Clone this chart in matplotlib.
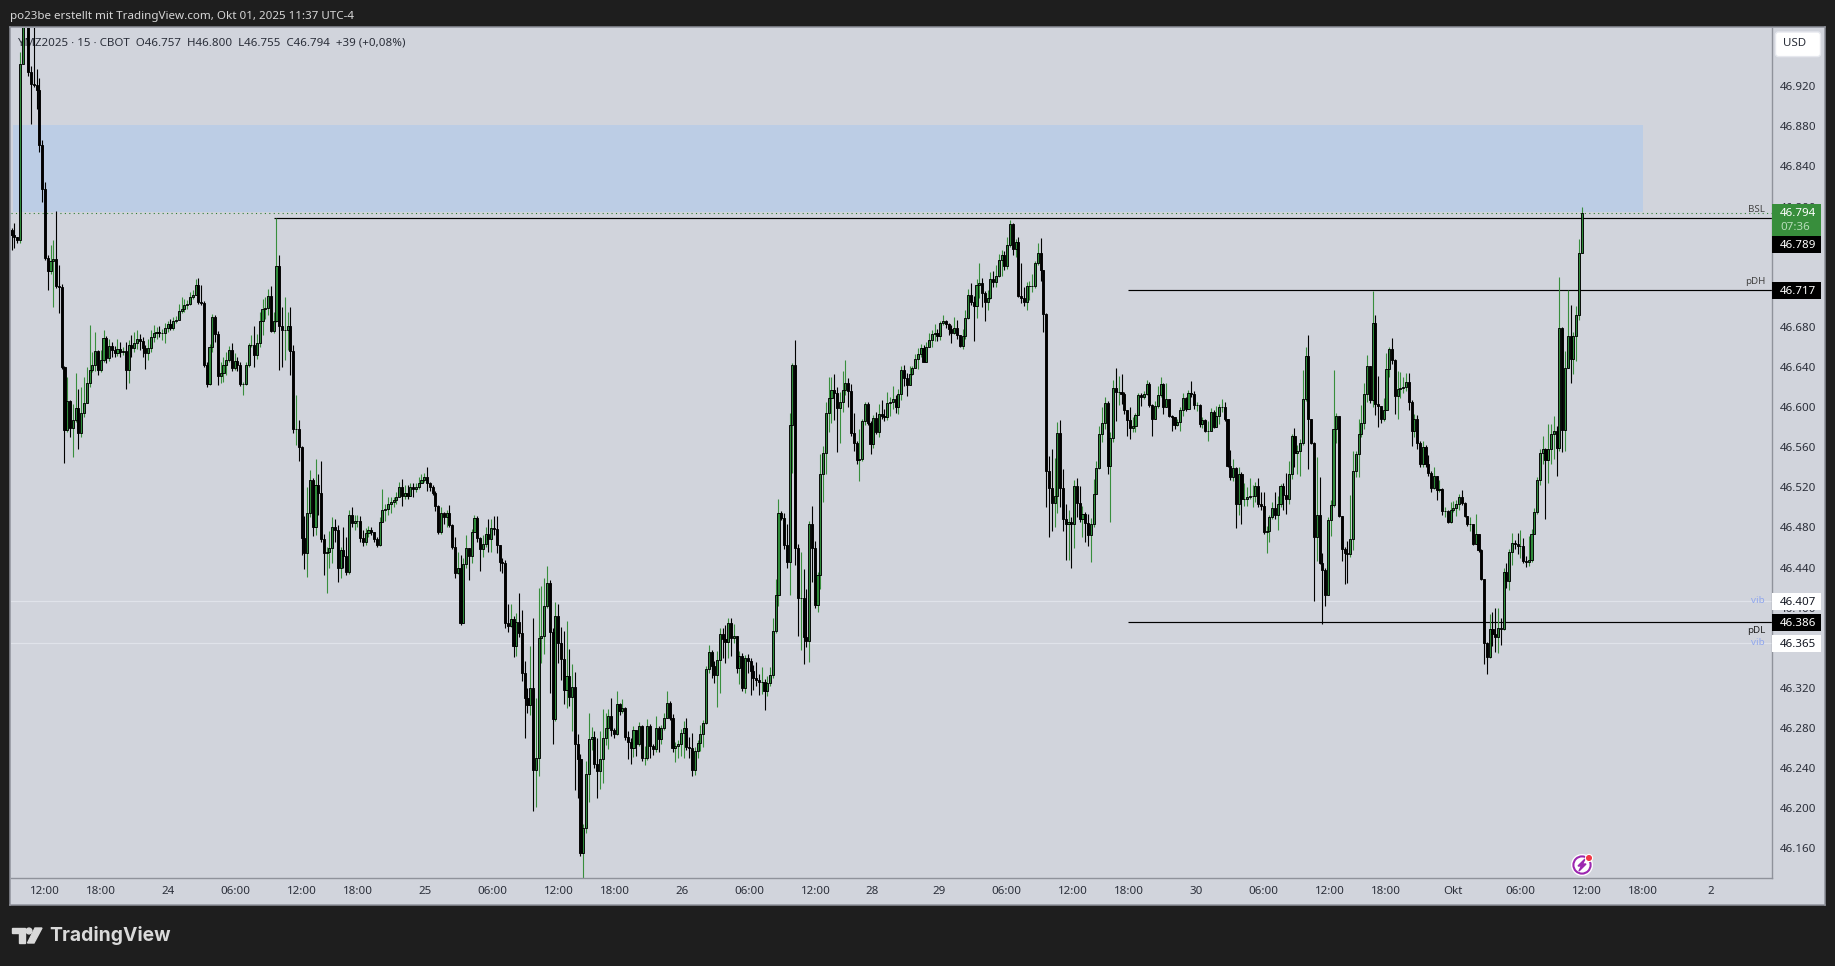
import numpy as np
import matplotlib
matplotlib.use("Agg")
import matplotlib.pyplot as plt
from matplotlib.patches import Rectangle, Circle, Polygon, FancyBboxPatch

plt.rcParams["font.family"] = ["Noto Sans", "DejaVu Sans"]

# prices in thousandths above 46.000
closes = [
    772,770,767,942,1005,1010,934,922,921,916,861,817,749,736,746,748,721,720,640,577,
    606,579,587,599,574,594,604,624,637,642,656,637,647,669,649,661,657,654,658,655,
    656,637,662,659,664,668,666,659,654,659,670,674,675,674,674,679,683,679,686,687,
    696,698,702,703,710,712,722,705,704,642,623,660,690,673,631,634,642,647,657,639,
    646,642,623,623,642,662,662,652,664,686,698,699,711,676,686,741,681,677,677,681,
    656,578,578,560,469,454,494,527,480,522,514,468,454,455,459,480,477,440,457,451,
    436,492,484,486,486,469,465,474,477,475,468,462,485,497,498,503,505,507,510,520,
    511,514,511,520,518,520,524,527,530,524,520,514,501,475,494,490,494,482,460,435,
    440,385,444,459,451,475,489,469,458,463,473,468,479,478,462,446,445,385,382,389,
    362,386,375,335,310,303,320,238,250,370,372,402,425,376,289,392,365,349,318,332,
    311,321,264,249,155,180,234,269,271,244,237,249,270,280,292,278,274,304,297,300,
    271,266,260,278,264,282,250,250,282,262,259,280,269,280,290,305,290,260,262,264,
    275,280,261,260,238,257,265,274,285,339,356,342,333,348,374,369,366,385,370,372,
    340,352,320,350,347,337,330,328,326,326,317,325,333,377,413,494,489,462,446,582,
    642,459,410,410,371,367,483,459,403,433,533,554,594,609,617,614,599,605,617,624,
    616,574,564,547,548,586,603,584,563,589,575,593,591,590,604,605,608,600,613,637,
    629,622,633,639,648,653,659,645,660,667,673,674,671,684,686,683,678,674,679,672,
    661,671,689,712,705,701,722,724,714,705,709,728,725,731,747,752,741,762,783,758,
    765,711,709,705,721,721,721,744,754,737,693,536,519,504,511,574,519,488,483,485,
    483,521,504,488,493,484,472,483,513,539,573,584,604,541,569,619,615,615,613,597,
    587,579,581,592,612,610,613,623,602,588,601,612,623,600,608,591,590,582,585,597,
    609,598,614,613,602,602,583,587,576,576,595,580,591,600,600,588,541,530,539,503,
    533,508,508,510,511,511,521,503,501,475,476,490,499,492,503,521,512,508,533,571,
    554,556,564,608,651,588,564,470,492,445,438,413,487,502,578,591,491,458,454,453,
    468,536,553,573,584,613,641,607,684,603,601,588,597,638,658,647,611,618,619,620,
    625,605,576,588,564,543,560,543,534,519,531,517,518,496,496,485,497,499,503,510,
    504,491,483,483,463,473,457,429,365,351,379,374,371,380,379,436,427,455,464,463,
    461,461,447,446,448,473,495,527,554,558,547,558,573,576,559,679,577,639,671,648,
    671,692,754,794,
]
highs = [
    779,784,770,954,1020,1030,1020,940,979,937,928,866,824,752,762,767,796,742,723,641,
    630,607,603,634,618,620,630,640,682,655,675,657,657,677,671,668,665,661,668,665,
    660,665,667,672,675,677,673,670,662,668,677,682,680,681,678,684,686,688,690,691,
    703,710,708,707,715,717,728,729,722,706,645,663,693,692,676,645,650,655,661,664,
    654,650,645,625,645,664,672,681,673,695,708,710,718,721,695,789,752,700,710,695,
    700,662,612,587,561,491,520,537,529,548,533,546,473,460,476,490,488,482,460,480,
    470,497,500,492,492,491,477,479,481,480,472,470,490,518,503,510,510,510,515,525,
    528,522,522,524,524,524,530,533,534,540,525,522,516,502,500,495,497,502,483,470,
    455,452,449,472,458,478,492,491,470,472,480,488,488,491,491,462,449,448,404,404,
    392,395,415,398,347,320,362,390,310,420,422,430,442,428,380,406,404,381,377,387,
    359,344,336,274,254,184,247,295,281,277,270,277,299,295,299,310,280,317,305,309,
    301,277,270,282,277,286,283,262,289,284,264,292,282,283,295,317,307,294,266,268,
    279,287,290,271,275,261,268,283,288,342,363,358,347,357,380,380,383,390,390,384,
    372,357,355,353,354,350,343,346,334,341,329,332,341,390,429,508,496,494,483,594,
    644,667,463,455,439,419,486,501,466,436,553,561,605,630,630,633,620,615,636,647,
    629,623,594,566,578,588,605,605,586,592,595,603,607,598,615,610,621,612,618,641,
    642,634,641,641,653,659,663,662,665,674,677,683,678,686,692,687,684,682,690,687,
    671,678,697,718,724,711,728,744,729,716,717,735,736,742,753,757,756,770,787,784,
    768,770,744,720,725,726,733,746,764,769,737,694,551,558,549,585,587,538,503,497,
    490,527,529,521,501,495,493,489,528,546,581,600,610,606,575,627,639,631,633,615,
    594,600,590,594,614,614,616,627,625,603,606,621,630,624,624,608,592,590,588,600,
    614,610,617,626,616,605,603,590,588,586,599,597,601,603,608,605,587,557,548,540,
    540,535,524,520,529,522,525,529,515,515,481,492,505,515,511,523,524,534,546,573,
    579,562,568,637,660,672,587,565,550,530,454,440,490,507,637,594,590,490,460,466,
    512,556,556,588,602,624,652,641,716,692,631,600,609,654,660,669,648,636,635,630,
    634,634,607,593,592,566,566,562,552,536,540,531,527,519,500,497,505,506,507,513,
    517,505,490,490,482,493,473,458,429,366,394,396,400,400,390,440,445,458,474,467,
    474,477,469,451,471,478,499,530,558,571,559,583,583,591,581,730,680,656,717,702,
    675,701,768,800,
]
lows = [
    757,759,764,764,942,990,930,882,919,897,854,804,747,717,733,700,719,694,638,544,
    575,570,550,585,558,570,590,619,620,635,636,632,635,645,644,646,650,650,651,650,
    652,618,624,650,655,658,657,650,638,647,655,665,668,670,667,664,675,677,677,684,
    688,694,695,698,702,708,712,703,702,640,620,622,655,665,622,624,625,632,645,636,
    637,636,621,612,622,640,660,640,648,660,672,688,692,675,674,685,637,640,647,657,
    632,574,562,546,452,439,431,490,471,472,492,465,433,415,440,445,465,426,430,440,
    433,434,480,477,480,465,461,462,470,472,465,460,461,488,486,492,494,500,503,510,
    501,508,508,512,510,515,518,524,525,516,516,512,496,473,473,483,480,480,458,430,
    434,383,388,440,428,445,475,465,437,450,460,455,455,472,454,437,435,380,376,381,
    351,352,371,327,270,295,293,197,201,232,345,354,400,315,264,287,345,328,304,300,
    302,277,218,210,152,129,175,206,258,240,210,219,225,263,259,272,270,273,293,295,
    268,249,244,251,252,262,247,243,248,250,253,256,256,264,278,290,288,256,246,250,
    252,250,258,250,232,233,250,257,261,284,335,330,325,301,315,350,345,350,352,365,
    335,324,317,315,335,313,318,322,313,314,298,312,322,330,375,402,487,458,440,413,
    534,443,372,358,344,361,346,426,400,396,419,505,533,575,584,587,555,564,595,612,
    600,571,556,543,526,546,582,582,553,559,573,570,588,586,587,591,598,594,593,607,
    621,611,625,632,640,638,650,645,645,660,660,666,666,667,682,679,672,664,673,668,
    660,658,668,688,702,666,689,709,700,686,697,708,720,720,730,731,737,738,760,752,
    750,710,704,701,697,707,715,719,742,726,675,500,470,476,480,494,500,476,448,448,
    440,459,490,485,470,465,461,446,480,513,538,565,578,533,485,565,586,602,603,593,
    571,568,575,575,594,601,608,612,600,571,588,599,610,593,601,590,576,578,581,576,
    591,596,598,610,598,596,580,579,575,566,580,579,584,583,595,586,540,527,526,479,
    492,483,501,501,508,500,505,500,497,473,454,465,488,488,477,500,497,493,503,528,
    540,533,531,562,606,538,563,407,447,444,384,402,414,471,500,564,490,447,424,425,
    450,457,530,530,570,578,605,604,600,592,580,584,586,605,630,643,593,588,609,614,
    616,597,561,570,558,540,540,540,531,515,518,507,515,492,490,484,484,495,491,497,
    502,490,481,476,462,465,455,428,344,334,350,362,356,355,363,378,420,418,443,458,
    453,449,445,441,442,446,473,493,522,543,488,524,543,548,531,556,555,556,640,624,
    633,646,687,755,
]

tick_idx = [12,32,56,80,104,124,148,172,196,216,240,264,288,308,332,356,380,400,424,448,472,492,516,540,564,584,608]
tick_labels = ["12:00","18:00","24","06:00","12:00","18:00","25","06:00","12:00","18:00","26","06:00","12:00",
               "28","29","06:00","12:00","18:00","30","06:00","12:00","18:00","Okt","06:00","12:00","18:00","2"]
price_ticks = np.arange(46.16, 46.93, 0.04)

zone_low, zone_high = 46.795, 46.881
bsl, pdh, pdl = 46.789, 46.717, 46.386
last_price = 46.794
vib_levels = [46.407, 46.365]
box_prices = [46.789, 46.717, 46.407, 46.386, 46.365]
box_pos = [46.7625, 46.716, 46.406, 46.385, 46.364]
box_colors = ["black", "black", "white", "black", "white"]
box_text = ["white", "white", "#131722", "white", "#131722"]

W, H = 1835, 966
BG = "#d1d4dc"
DARK = "#1e1e1e"
LINE = "#8f929b"
TXT = "#2a2e39"
GREEN = "#2e8b3a"

def rect(l, t, r, b):
    return [l / W, 1 - b / H, (r - l) / W, (b - t) / H]

fig = plt.figure(figsize=(W / 100, H / 100), dpi=100, facecolor=DARK)

bg = fig.add_axes(rect(10, 27, 1825, 905), facecolor=BG, zorder=0)
bg.set_xticks([])
bg.set_yticks([])
for s in bg.spines.values():
    s.set_color(LINE)
    s.set_linewidth(1.1)

ax = fig.add_axes(rect(10.5, 27.5, 1771.5, 878), facecolor=BG, zorder=1)
ylim = (46.1304, 46.9785)
step = 2.794
x0 = 11.5
ax.set_xlim((10.5 - x0) / step, (1771.5 - x0) / step)
ax.set_ylim(*ylim)
for name in ["top", "left"]:
    ax.spines[name].set_visible(False)
for name in ["right", "bottom"]:
    ax.spines[name].set_color(LINE)
    ax.spines[name].set_linewidth(1.0)

c = 46 + np.array(closes) / 1000
h = 46 + np.array(highs) / 1000
l = 46 + np.array(lows) / 1000
o = np.r_[c[0] + 0.005, c[:-1]]
h = np.maximum(h, np.maximum(o, c))
l = np.minimum(l, np.minimum(o, c))
n = len(c)
x = np.arange(n) * 562 / (n - 1)
up = c >= o

ax.add_patch(Rectangle((0.5, zone_low), 584 - 0.5, zone_high - zone_low, facecolor="#bccde5", edgecolor="none", zorder=1))
for v in vib_levels:
    ax.axhline(v, color="#e0e3ea", lw=0.9, zorder=1.2)
ax.axhline(last_price, color="#2e7d32", lw=0.8, ls=(0, (1, 3)), zorder=1.3)
ax.hlines(bsl, 94, 640, color="black", lw=0.85, zorder=1.4)
ax.hlines([pdh, pdl], 399.5, 640, color="black", lw=0.85, zorder=1.4)

ax.vlines(x[up], l[up], h[up], color="#388e3c", lw=0.8, zorder=2)
ax.vlines(x[~up], l[~up], h[~up], color="black", lw=0.8, zorder=2)
ax.bar(x[up], (c - o)[up], bottom=o[up], width=0.75, facecolor=GREEN, edgecolor="black", linewidth=0.65, zorder=3)
ax.bar(x[~up], (c - o)[~up], bottom=o[~up], width=0.75, facecolor="black", edgecolor="black", linewidth=0.65, zorder=3)

ax.yaxis.tick_right()
ax.set_yticks(price_ticks)
# 46.760 and 46.360 sit fully under the price boxes
hidden = [46.76, 46.36]
ax.set_yticklabels(["" if np.isclose(v, hidden).any() else f"{v:.3f}" for v in price_ticks])
ax.tick_params(axis="y", length=0, pad=6, labelsize=8.3, labelcolor=TXT)
ax.set_xticks(tick_idx)
ax.set_xticklabels(tick_labels)
ax.tick_params(axis="x", length=0, pad=5.5, labelsize=8.3, labelcolor=TXT)
ax.get_xticklabels()[tick_labels.index("Okt")].set_fontweight("bold")

fig.text(10 / W, 1 - 16 / H, "po23be erstellt mit TradingView.com, Okt 01, 2025 11:37 UTC-4",
         color="#d6d6d6", fontsize=8.35, va="center", ha="left")
ax.text((18 - x0) / step, 46.9635, "YMZ2025 · 15 · CBOT  O46.757  H46.800  L46.755  C46.794  +39 (+0,08%)",
        color=TXT, fontsize=8.3, va="center", ha="left", zorder=1.5)

for txt, v, col in [("BSL", 46.797, "#444"), ("pDH", 46.725, "#444"), ("pDL", 46.377, "#222"),
                    ("vib", 46.407, "#8fa6ee"), ("vib", 46.365, "#8fa6ee")]:
    ax.text((1765 - x0) / step, v, txt, color=col, fontsize=7, ha="right", va="center", zorder=4)

# price scale labels on top of the tick text
pa = fig.add_axes(rect(1771.5, 27.5, 1825, 878), zorder=3)
pa.patch.set_alpha(0)
pa.axis("off")
pa.set_xlim(1771.5, 1825)
pa.set_ylim(*ylim)
for v, p, fc, tc in zip(box_prices, box_pos, box_colors, box_text):
    pa.add_patch(Rectangle((1772, p - 0.0085), 49, 0.017, facecolor=fc, edgecolor="none"))
    pa.text(1780, p - 0.001, f"{v:.3f}", color=tc, fontsize=8.3, va="center", ha="left",
            fontweight="bold" if fc == "black" else "normal")
pa.add_patch(Rectangle((1772, 46.771), 49, 0.031, facecolor="#388e3c", edgecolor="none"))
pa.text(1780, last_price - 0.001, f"{last_price:.3f}", color="white", fontsize=8.3, fontweight="bold", va="center", ha="left")
pa.text(1780, 46.7795, "07:36", color="#b7dcb9", fontsize=8.3, va="center", ha="left")

# pixel overlay for logo, badge and currency button
ov = fig.add_axes([0, 0, 1, 1], zorder=4)
ov.patch.set_alpha(0)
ov.axis("off")
ov.set_xlim(0, W)
ov.set_ylim(H, 0)

ov.add_patch(FancyBboxPatch((1775.5, 32), 45, 24.6, boxstyle="round,pad=0,rounding_size=3", facecolor="white",
                            edgecolor="#e6e8ee", lw=1))
ov.text(1794.5, 44, "USD", color=TXT, fontsize=8.3, ha="center", va="center")

ov.add_patch(Circle((1582, 865), 11, facecolor="white", edgecolor="none"))
ov.add_patch(Circle((1582, 865), 8.6, facecolor="white", edgecolor="#9c27b0", lw=1.5))
ov.add_patch(Polygon([(1585, 859), (1578, 866), (1581.5, 866), (1579, 871), (1586, 864), (1582.5, 864)], color="#9c27b0"))
ov.add_patch(Circle((1589, 858), 3.6, facecolor="#f23645", edgecolor="white", lw=0.8))

logo = "#d9d9d9"
ov.add_patch(Polygon([(12, 928), (25, 928), (25, 943), (19, 943), (19, 933), (12, 933)], color=logo))
ov.add_patch(Circle((29, 931), 2.9, color=logo))
ov.add_patch(Polygon([(35, 928), (42, 928), (34, 943), (27.5, 943)], color=logo))
ov.text(49, 935.5, "TradingView", color=logo, fontsize=13.9, family="Inter", fontweight="bold", ha="left", va="center")

fig.savefig("out.png", dpi=100, facecolor=DARK)
